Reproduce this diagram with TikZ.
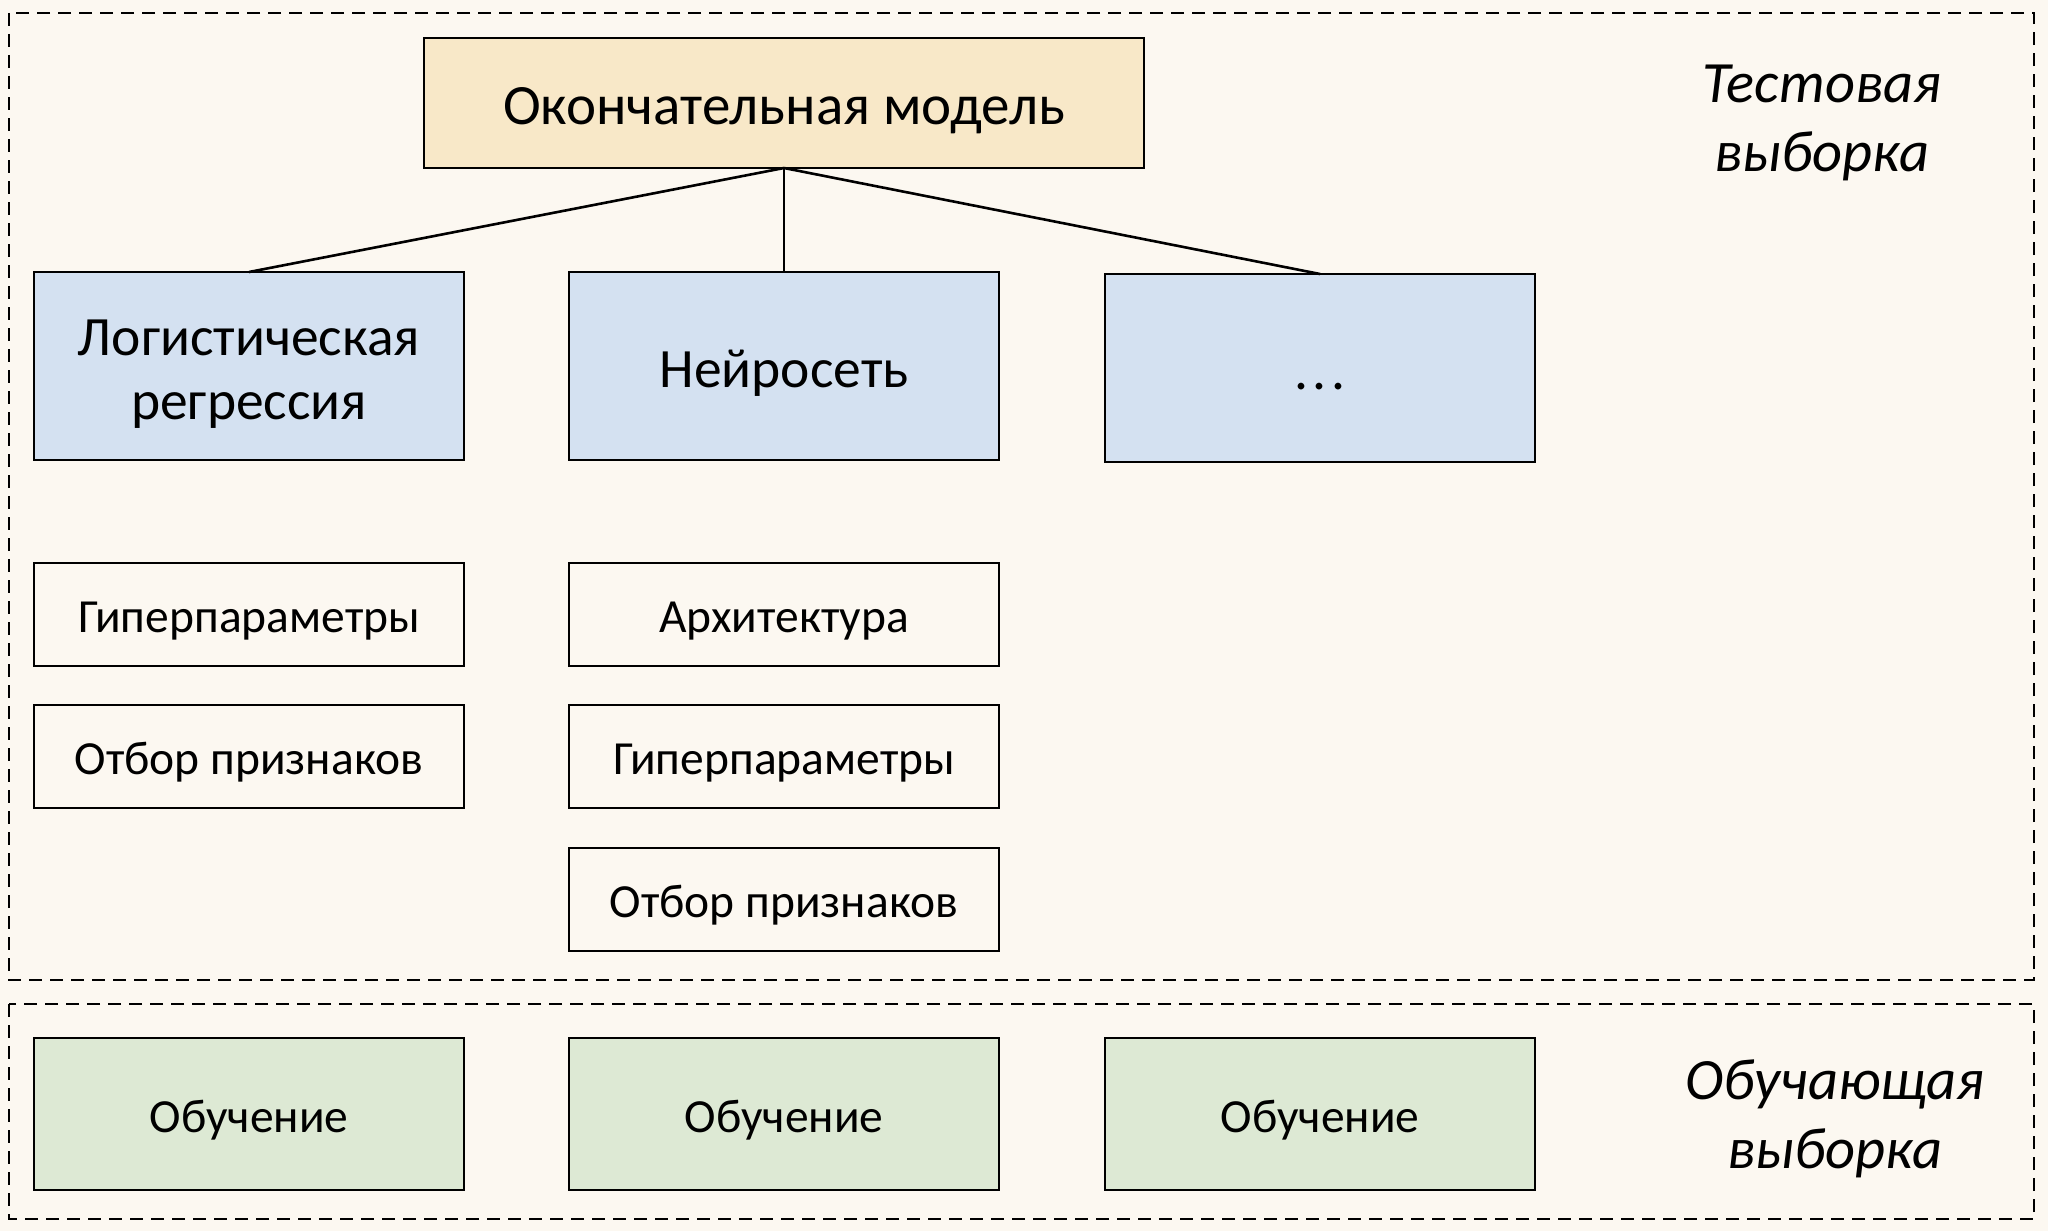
\documentclass[tikz,border=0pt]{standalone}
\usepackage{fontspec}
\setmainfont{Carlito}
% line struts: fix the top line's height and the last line's depth so that
% text sits alike in every box
\newcommand{\ls}{\rule[-0.16em]{0pt}{1.08em}}
\newcommand{\lsb}{\rule[-0.16em]{0pt}{0pt}}
\begin{document}
\begin{tikzpicture}[x=1pt,y=-1pt,
  every node/.style={inner sep=0pt, outer sep=0pt},
  box/.style={draw=black, line width=2.6pt, minimum width=430pt, align=center},
  finaltext/.style={font=\fontsize{57}{64}\selectfont},
  bigtext/.style={font=\fontsize{55.5}{64}\selectfont},
  smalltext/.style={font=\fontsize{47.5}{56}\selectfont},
  modelbox/.style={box, bigtext, minimum height=188pt, fill=modelblue},
  optbox/.style={box, smalltext, minimum height=103pt},
  trainbox/.style={box, smalltext, minimum height=152pt, fill=traingreen},
  frame/.style={draw=black, line width=2.6pt, dash pattern=on 13pt off 8pt},
  setlabel/.style={align=center, font=\fontsize{58.5}{69.5}\selectfont\itshape},
  link/.style={draw=black, line width=2.6pt}]
\definecolor{bgcream}{HTML}{FCF8F1}
\definecolor{finalpeach}{HTML}{F8E8C8}
\definecolor{modelblue}{HTML}{D4E1F1}
\definecolor{traingreen}{HTML}{DDE9D4}

% page and background
\fill[bgcream] (0,0) rectangle (2048,1231);
\useasboundingbox (0,0) rectangle (2048,1231);

% dashed frames for the two data splits
\draw[frame] (9,13) rectangle (2034,980);
\draw[frame] (9,1004) rectangle (2034,1219);

% final model
\node[box, finaltext, fill=finalpeach, minimum width=720pt, minimum height=130pt] (final) at (784,103) {\ls Окончательная модель};

% candidate models
\node[modelbox] (lr) at (249,366) {\ls Логистическая\\\lsb регрессия};
\node[modelbox] (nn) at (784,366) {\ls Нейросеть};
\node[modelbox] (other) at (1320,368) {\ls .\kern0.09em.\kern0.09em.};

% tuned settings
\node[optbox] (hp1) at (249,614.5) {\ls Гиперпараметры};
\node[optbox] (fs1) at (249,756.5) {\ls Отбор признаков};
\node[optbox] (arch) at (784,614.5) {\ls Архитектура};
\node[optbox] (hp2) at (784,756.5) {\ls Гиперпараметры};
\node[optbox] (fs2) at (784,899.5) {\ls Отбор признаков};

% training stage
\node[trainbox] (t1) at (249,1114) {\ls Обучение};
\node[trainbox] (t2) at (784,1114) {\ls Обучение};
\node[trainbox] (t3) at (1320,1114) {\ls Обучение};

% split labels
\node[setlabel] (testlbl) at (1822,115) {\ls Тестовая\\\lsb выборка};
\node[setlabel] (trainlbl) at (1835,1112) {\ls Обучающая\\\lsb выборка};

% connectors
\draw[link] (final.south) -- (lr.north);
\draw[link] (final.south) -- (nn.north);
\draw[link] (final.south) -- (other.north);
\end{tikzpicture}
\end{document}
